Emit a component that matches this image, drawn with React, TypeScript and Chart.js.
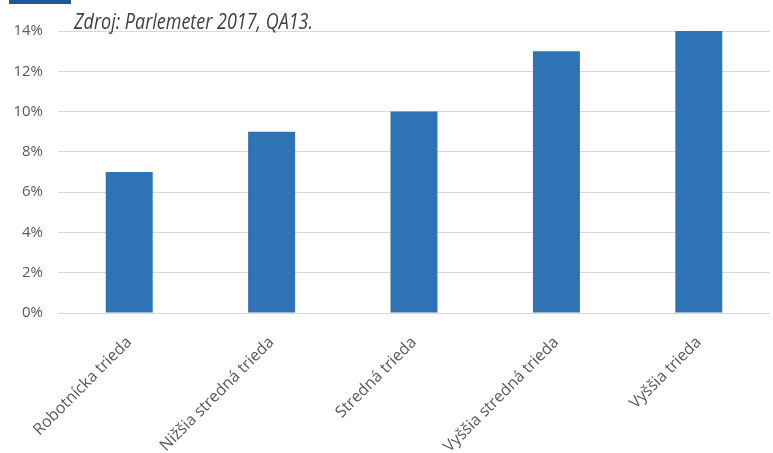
import React, { useEffect, useRef } from "react";
import { Chart, registerables } from "chart.js";

Chart.register(...registerables);

const categories = [
  "Robotnícka trieda",
  "Nižšia stredná trieda",
  "Stredná trieda",
  "Vyššia stredná trieda",
  "Vyššia trieda",
];
const values = [7, 9, 10, 13, 14];
const sourceText = "Zdroj: Parlemeter 2017, QA13.";

const sourcePlugin = {
  id: "sourceText",
  afterDraw(chart: any) {
    const ctx = chart.ctx;
    ctx.save();
    ctx.font = "italic 22px 'Open Sans'";
    ctx.fillStyle = "#404040";
    ctx.textBaseline = "alphabetic";
    ctx.textAlign = "left";
    const w = ctx.measureText(sourceText).width;
    const targetW = 239;
    ctx.translate(74, 29);
    ctx.scale(targetW / w, 1);
    ctx.fillText(sourceText, 0, 0);
    ctx.restore();
  },
};

export default function App() {
  const ref = useRef<HTMLCanvasElement>(null);
  useEffect(() => {
    const chart = new Chart(ref.current!, {
      type: "bar",
      data: {
        labels: categories,
        datasets: [
          {
            data: values,
            backgroundColor: "#2E74B5",
            categoryPercentage: 1,
            barPercentage: 0.33,
          },
        ],
      },
      options: {
        animation: false,
        responsive: false,
        maintainAspectRatio: false,
        layout: { padding: { top: 31, right: 3, left: 0, bottom: 0 } },
        plugins: { legend: { display: false }, tooltip: { enabled: false } },
        scales: {
          x: {
            offset: true,
            grid: { display: false },
            border: { display: false },
            ticks: {
              minRotation: 45,
              maxRotation: 45,
              color: "#595959",
              font: { family: "'Open Sans'", size: 16 },
              padding: 12,
            },
            afterFit(scale: any) {
              scale.height = 140;
            },
          },
          y: {
            min: 0,
            max: 14,
            grid: { color: "#D9D9D9", drawTicks: false, lineWidth: 1 },
            border: { display: false },
            ticks: {
              stepSize: 2,
              color: "#595959",
              font: { family: "'Open Sans'", size: 15 },
              padding: 15,
              callback: (v: any) => v + "%",
            },
            afterFit(scale: any) {
              scale.width = 58;
            },
          },
        },
      },
      plugins: [sourcePlugin],
    });
    return () => chart.destroy();
  }, []);
  return (
    <div style={{ position: "fixed", left: 0, top: 0, width: 773, height: 453, background: "#fff" }}>
      <div style={{ position: "absolute", left: 9, top: 0, width: 62, height: 4, background: "#1B5A96" }} />
      <canvas ref={ref} width={773} height={453} style={{ display: "block" }} />
    </div>
  );
}
